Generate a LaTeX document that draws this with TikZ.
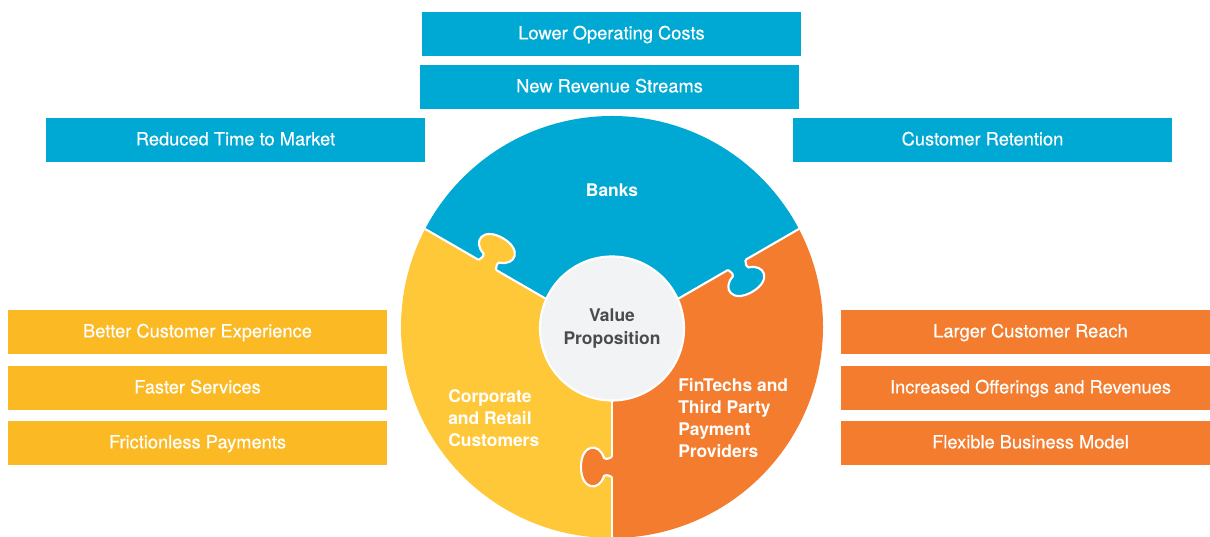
\documentclass[tikz,border=0pt]{standalone}
\usepackage{fontspec}
\setmainfont{TeX Gyre Heros}
\newfontfamily\benefitfont{TeX Gyre Heros}[FakeBold=0.4]
\definecolor{bankblue}{HTML}{00A8D4}
\definecolor{custyellow}{HTML}{FFC839}
\definecolor{boxyellow}{HTML}{FBB923}
\definecolor{fintechorange}{HTML}{F37C2E}
\definecolor{corelight}{HTML}{F2F3F5}
\definecolor{coretext}{HTML}{4A4B4D}
\tikzset{
  benefit/.style={minimum width=9.475cm, minimum height=1.1cm, inner sep=0pt,
    text height=9.3pt, text depth=1.6pt,
    text=white, font=\benefitfont\fontsize{13}{15.6}\selectfont},
  piecelabel/.style={text=white, inner sep=0pt,
    font=\bfseries\fontsize{12.4}{15.8}\selectfont},
  seam/.style={white, line width=1.5pt},
  tabpath/.style={insert path={(-10,0) .. controls (-9,3) and (-7,5) .. (-9,8)
    .. controls (-25,13) and (-23,31) .. (0,31)
    .. controls (23,31) and (25,13) .. (9,8)
    .. controls (7,5) and (9,3) .. (10,0)}},
}
\begin{document}
\begin{tikzpicture}[x=0.025cm,y=0.025cm]
\useasboundingbox (0,0) rectangle (1210,537);
%
\node (lowcost) [benefit, fill=bankblue] at (611.5,503) {Lower Operating Costs};
\node (revenue) [benefit, fill=bankblue] at (609.5,450) {New Revenue Streams};
\node (market) [benefit, fill=bankblue] at (235.5,397) {Reduced Time to Market};
\node (retention) [benefit, fill=bankblue] at (982.5,397) {Customer Retention};
%
\node (experience) [benefit, fill=boxyellow] at (197.5,205) {Better Customer Experience};
\node (faster) [benefit, fill=boxyellow] at (197.5,149) {Faster Services};
\node (frictionless) [benefit, fill=boxyellow] at (197.5,94) {Frictionless Payments};
%
\node (reach) [benefit, fill=fintechorange] at (1030.5,205) {Larger Customer Reach};
\node (offerings) [benefit, fill=fintechorange] at (1030.5,149) {Increased Offerings and Revenues};
\node (flexible) [benefit, fill=fintechorange] at (1030.5,94) {Flexible Business Model};
%
\begin{scope}
\clip (612,210) circle (211);
\fill [bankblue] (612,200) -- (266,400) -- (266,560) -- (958,560) -- (958,400) -- cycle;
\fill [custyellow] (612,200) -- (266,400) -- (266,-20) -- (612,-20) -- cycle;
\fill [fintechorange] (612,200) -- (958,400) -- (958,-20) -- (612,-20) -- cycle;
\draw [seam] (612,200) -- (266,400);
\draw [seam] (612,200) -- (958,400);
\draw [seam] (612,200) -- (612,-20);
%
\begin{scope}[shift={(487.3,272)},rotate=-30]
\fill [custyellow,tabpath] -- (10,-3) -- (-10,-3) -- cycle;
\draw [seam,tabpath];
\end{scope}
%
\begin{scope}[shift={(736.7,272)},rotate=-150]
\fill [bankblue,tabpath] -- (10,-3) -- (-10,-3) -- cycle;
\draw [seam,tabpath];
\end{scope}
%
\begin{scope}[shift={(612,70)},rotate=90]
\fill [fintechorange,tabpath] -- (10,-3) -- (-10,-3) -- cycle;
\draw [seam,tabpath];
\end{scope}
\end{scope}
%
\node (core) [circle, fill=corelight, draw=white, line width=1.5pt, minimum size=3.6cm,
  inner sep=0pt, text=coretext, align=center,
  font=\bfseries\fontsize{12.4}{16.2}\selectfont] at (612,208.5) {Value\\Proposition};
\node (banks) [piecelabel] at (612,347) {Banks};
\node (customers) [piecelabel, align=left, anchor=west] at (448,119) {Corporate\\and Retail\\Customers};
\node (fintechs) [piecelabel, align=left, anchor=west] at (678,119) {FinTechs and\\Third Party\\Payment\\Providers};
\end{tikzpicture}
\end{document}
